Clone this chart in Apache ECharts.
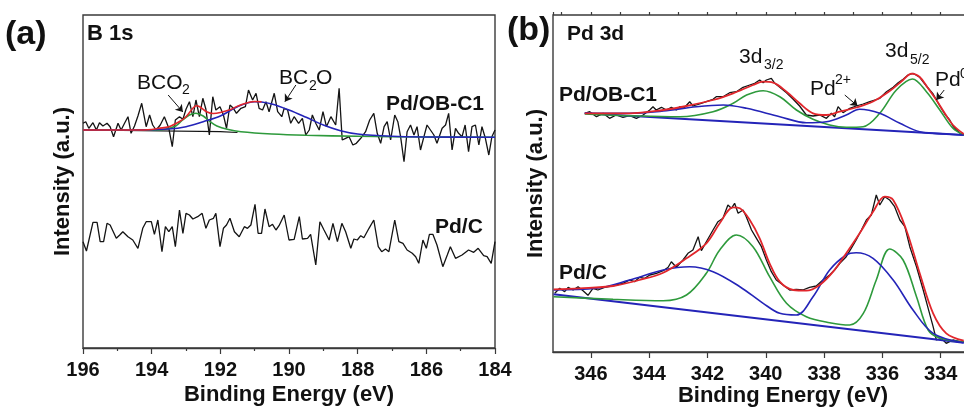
<!DOCTYPE html>
<html><head><meta charset="utf-8">
<script src="https://cdn.jsdelivr.net/npm/echarts@6/dist/echarts.min.js"></script>
<style>html,body{margin:0;padding:0;background:#fff}#c{width:964px;height:408px}</style>
</head><body><div id="c"></div>
<script>
// ---------- Panel (a): B 1s ----------
const aTicks = [196, 194, 192, 190, 188, 186, 184];
// Pd/OB-C1 raw spectrum
const obE_a = [196.00,195.92,195.83,195.71,195.61,195.52,195.42,195.30,195.21,195.11,
  194.98,194.89,194.79,194.69,194.60,194.50,194.40,194.29,194.16,194.06,
  193.97,193.87,193.75,193.63,193.50,193.40,193.31,193.19,193.09,193.00,
  192.90,192.80,192.71,192.61,192.51,192.42,192.32,192.22,192.13,192.01,
  191.91,191.82,191.72,191.62,191.53,191.40,191.27,191.18,191.06,190.96,
  190.87,190.77,190.67,190.58,190.43,190.33,190.21,190.14,190.04,189.95,
  189.85,189.72,189.61,189.51,189.41,189.32,189.22,189.12,189.01,188.91,
  188.78,188.64,188.54,188.45,188.35,188.25,188.14,188.04,187.91,187.77,
  187.65,187.53,187.43,187.33,187.23,187.14,187.04,186.92,186.83,186.75,
  186.65,186.56,186.46,186.36,186.27,186.17,186.07,185.98,185.88,185.78,
  185.69,185.54,185.44,185.35,185.25,185.15,185.06,184.96,184.87,184.77,
  184.67,184.57,184.47,184.38,184.28,184.18,184.09,184.00];
const obI_a = [224.7,226.3,219.7,225.3,218,225.3,222,224.7,221.3,211.3,
  224.7,218,224.7,231.3,214.7,222,232,244.7,221.3,233,
  223,218,223,231.3,219.7,201.3,228,231.3,228.7,238.7,
  246.3,231.3,248,231.3,249.7,238.7,213,251.3,238,241.3,
  233,219.7,243,239.7,234.7,239.7,241.3,258,248,254.7,
  239.7,238,246.3,236.3,254.7,236.3,231.3,239.7,238,224.7,
  231.3,224.7,229.7,213,218,233,224.7,218,236.3,221.3,
  231.3,223,259.7,208,209.7,211.3,203,204.7,209.7,216.3,
  228,234.7,214.7,204.7,221.3,226.3,208,233,226.3,211.3,
  186.3,216.3,223,213,221.3,198,211.3,223,218,213,
  204.7,219.7,223,234.7,198,219.7,214.7,211.3,223,196.3,
  221.3,223,203,221.3,209.7,193,211.3,218];
// Pd/C raw spectrum
const pdcE_a = [196.00,195.90,195.71,195.59,195.50,195.40,195.30,195.21,195.03,194.93,
  194.84,194.69,194.55,194.40,194.26,194.16,194.01,193.92,193.82,193.70,
  193.60,193.50,193.40,193.31,193.19,193.09,193.00,192.90,192.80,192.66,
  192.53,192.42,192.32,192.20,192.13,192.01,191.91,191.82,191.72,191.59,
  191.45,191.30,191.21,191.11,190.99,190.90,190.80,190.70,190.58,190.48,
  190.38,190.29,190.14,190.00,189.85,189.70,189.61,189.46,189.37,189.22,
  189.10,188.98,188.83,188.72,188.59,188.46,188.35,188.20,188.11,188.01,
  187.91,187.82,187.67,187.53,187.40,187.30,187.19,187.09,186.92,186.80,
  186.68,186.56,186.41,186.31,186.22,186.10,186.00,185.91,185.81,185.69,
  185.52,185.39,185.30,185.15,184.96,184.77,184.62,184.49,184.33,184.23,
  184.11,184.00];
const pdcI_a = [106.3,97,125.7,125.7,106.3,106.3,124.7,123,109.7,113,
  116.3,111.3,108,99.7,119.7,126.3,126.3,113.7,128,96.3,
  121.3,116.3,121.3,101.3,138,114.7,134.7,133,129,131.3,
  134.7,119.7,128,129.7,134.7,101.3,119.7,123,129.7,116.3,
  111.3,121.3,119.7,123,143.7,114.7,114.7,139,121.3,123.7,
  118,122.3,133,108,108.7,131.3,109,109.7,113.7,83,
  126.3,118,108,124.7,106.3,124.7,116.3,99.7,109,108,
  112.3,110.3,119.7,128,101.3,96.3,99,96.3,128,106.3,
  104.7,98,94.7,91.3,84.7,108,99.7,113.7,113.7,103,
  81.3,93,101.3,89.7,93,98,95.7,99.7,92.3,91.3,
  84.7,106.3];
// fit curves (a)
const bgE_a = [196, 192, 191.5];
const bgI_a = [218, 216.3, 215.5];
const grnE_a = [196,194,193.6,193.3,193.1,192.9,192.71,192.5,192.3,192.1,191.8,191.4,190.5,189.5,188,186,184];
const grnI_a = [218,217.7,218.7,222,228,233,234.7,232,226.3,222,218.7,216.3,214,212.7,211.7,211,210.7];
const bluE_a = [196,194.5,193.5,193,192.5,192,191.5,191,190.8,190.5,190,189.5,189,188.5,188,187,186,184];
const bluI_a = [218,218,219,221.3,226.3,232,241.3,246.3,246,244,238,230.7,223,217.3,214,211.7,211,210.7];
const redE_a = [196,195,194.5,194,193.8,193.5,193.2,193,192.8,192.7,192.6,192.4,192.2,192,191.7,191.5,191,190.8];
const redI_a = [218,218,218,218.5,219.7,221.3,226.3,231.3,239.7,242.3,241.3,236.3,234.5,235.5,238.5,241.8,246.5,246.2];

// ---------- Panel (b): Pd 3d ----------
const bTicks = [346, 344, 342, 340, 338, 336, 334];
const obE_b = [346.21,346.04,345.81,345.58,345.36,345.13,344.90,344.67,344.44,344.21,
  343.98,343.87,343.76,343.58,343.41,343.24,343.07,342.95,342.78,342.61,
  342.50,342.27,342.04,341.81,341.70,341.47,341.24,341.01,340.78,340.55,
  340.38,340.21,340.09,339.98,339.81,339.69,339.52,339.29,339.06,338.84,
  338.61,338.38,338.15,337.92,337.75,337.64,337.52,337.35,337.12,336.90,
  336.66,336.43,336.26,336.09,335.86,335.63,335.46,335.29,335.12,334.95,
  334.72,334.49,334.26,334.03,333.86,333.69,333.58,333.46,333.35,333.21];
const obI_b = [238.7,240.3,235.3,238.7,233.7,237,234.7,236.3,233.7,237,
  242,245.3,242,244.7,242,244.7,242,245.3,244.7,250.3,
  246,248,250.3,252.7,255.3,255.3,259.3,260.3,264.7,267,
  268.7,272,269.3,272,273.7,268.7,264.7,259.3,252.7,246,
  237,236,237,233.7,238.7,235.3,245.3,239.3,243.7,246,
  248,250.3,252,253.7,260.3,264.7,269.3,272.7,277,278.7,
  274.7,266,258,246,238,232,226,222,219,217];
const redE_bt = [346.21,344.67,343.52,342.72,341.81,341.12,340.44,340.09,339.75,339.29,338.84,338.38,337.92,337.47,336.9,336.32,335.75,335.29,335.0,334.72,334.44,334.15,333.86,333.58,333.21];
const redI_bt = [238.7,238.7,242,246,252,258.7,267,270.3,269.3,260.3,248.7,238.7,237,240.3,244.5,250.5,261,272,278.3,275,264,252,238.7,227,218];
const grnE_bt = [346.21,342.95,341.81,341.12,340.66,340.09,339.52,338.95,338.38,337.81,337.24,336.66,336.09,335.52,334.97,334.49,334.03,333.58,333.21];
const grnI_bt = [238,235.3,240.3,248.7,257,261.3,255.3,242,232.7,227,224.7,225.3,238.7,262,273,260.3,242,223.7,217];
const bluE_bt = [346.21,344.67,343.52,342.38,341.46,340.66,339.52,338.61,337.92,337.24,336.78,336.09,335.40,334.72,333.81,333.21];
const bluI_bt = [238.7,238.7,241,245.3,247,243.7,235.3,229.3,230.3,237,242.7,238.7,228.7,220.3,218,217];
const bgE_bt = [346.21, 333.21];
const bgI_bt = [238.7, 217];

const pdcE_b = [347.24,347.07,346.90,346.78,346.61,346.44,346.27,346.10,345.93,345.76,
  345.53,345.30,345.13,344.90,344.67,344.50,344.33,344.15,343.98,343.75,
  343.52,343.35,343.24,343.07,342.84,342.67,342.50,342.32,342.21,342.04,
  341.81,341.64,341.47,341.30,341.18,341.07,340.95,340.78,340.67,340.49,
  340.32,340.15,339.98,339.81,339.64,339.41,339.18,338.95,338.73,338.50,
  338.27,338.04,337.81,337.64,337.46,337.24,337.07,336.90,336.72,336.55,
  336.38,336.21,336.09,335.92,335.75,335.58,335.40,335.23,335.06,334.83,
  334.60,334.43,334.26,334.15,333.98,333.81,333.58,333.35,333.21];
const pdcI_b = [58.7,63.7,60.3,64.7,62,65.3,61.3,56.7,63.7,62,
  64.7,66,67,68.7,72,70.3,74.7,73.7,77,78.7,
  81.3,84.7,90.3,84.7,92,98.7,102,115.3,101.3,110.3,
  122,130.3,133.7,147,143.7,148.7,138.7,142,135.3,122,
  113.7,105.3,92,80.3,72,67,62,62.7,62,64.7,
  66,72,77,82,88.7,95.3,103.7,112,122,132,
  137,157,147,155.3,152,145.3,132,125.3,105.3,85.3,
  62,43.7,25.3,12,13.7,8.7,12,10.3,10.3];
const redE_bb = [347.28,346.38,345.24,344.33,343.52,342.72,342.04,341.58,341.12,340.89,340.55,340.21,339.87,339.52,339.06,338.61,338.15,337.69,337.24,336.78,336.32,335.92,335.63,335.18,334.72,334.26,333.81,333.21];
const redI_bb = [62.7,63.7,66,72,79.3,93.7,108.7,128.7,144.7,143.7,132,113.7,88.7,70.3,62,61.3,67,80.3,98.7,118.7,140.3,155.3,152,122,78.7,38.7,18.7,11.3];
const grnE_bb = [347.28,345.24,343.52,342.72,342.04,341.58,341.01,340.44,339.87,339.29,338.61,337.81,337.12,336.66,336.21,335.75,335.29,334.83,334.43,334.03,333.21];
const grnI_bb = [55.3,52.7,51.3,57,78.7,102,117,105.3,75.3,48.7,35.3,29.3,27,38.3,72,103,92,55.3,22,14,10.3];
const bluE_bb = [347.28,345.81,344.67,343.52,342.61,341.81,340.89,340.09,339.52,338.95,338.38,337.81,337.24,336.9,336.32,335.63,334.95,334.26,333.21];
const bluI_bb = [62,63.7,72,82,85.3,80.3,65.3,48.7,38.7,37,55.3,82,97,99.3,93.7,72,42,18.7,9.3];
const bgE_bb = [347.28, 333.21];
const bgI_bb = [57.7, 9.3];

// arrows (data coords: [start],[end])
const arrowsA = [[[193.52, 253], [193.09, 236]], [[189.8, 263], [190.12, 246.3]]];
const arrowsB = [[[337.29, 257], [336.85, 246]], [[333.88, 262], [334.15, 252]]];

// ---------- build chart ----------
const FONT = '"Liberation Sans", Arial, Helvetica, sans-serif';
const COL = { black: '#141414', red: '#e1262c', green: '#2e9a3c', blue: '#2424b8', frame: '#3a3a3a' };
const pairs = (xs, ys) => xs.map((x, i) => [x, ys[i]]);

function ser(xi, yi, xs, ys, color, smooth, width, extra) {
  return Object.assign({
    type: 'line', xAxisIndex: xi, yAxisIndex: yi, data: pairs(xs, ys),
    showSymbol: false, symbol: 'none', smooth: smooth, silent: true,
    lineStyle: { color: color, width: width || 1.3 }
  }, extra || {});
}
function arrowMark(list) {
  return {
    silent: true, symbol: ['none', 'arrow'], symbolSize: 7, animation: false,
    label: { show: false },
    lineStyle: { color: COL.black, width: 1, type: 'solid' },
    data: list.map(a => [{ coord: a[0] }, { coord: a[1] }])
  };
}

const axisLbl = { fontSize: 20, fontWeight: 'bold', color: '#111', fontFamily: FONT, margin: 12 };
const nameSt = { fontSize: 22, fontWeight: 'bold', color: '#111', fontFamily: FONT };
const yNameSt = { fontSize: 22, fontWeight: 'bold', color: '#111', fontFamily: FONT };

function txt(x, y, s, size, bold, extra) {
  return Object.assign({
    type: 'text', x: x, y: y, z: 100, silent: true,
    style: { text: s, fill: '#111', fontSize: size, fontWeight: bold ? 'bold' : 'normal', fontFamily: FONT,
      align: 'left', textAlign: 'left', verticalAlign: 'middle', textVerticalAlign: 'middle' }
  }, extra || {});
}

const option = {
  animation: false,
  backgroundColor: '#fff',
  grid: [
    { left: 83, top: 15, width: 412, height: 333, show: true, borderColor: COL.frame, borderWidth: 1.4,
      backgroundColor: 'transparent', containLabel: false, outerBoundsMode: 'none' },
    { left: 553, top: 15, width: 446, height: 337, show: true, borderColor: COL.frame, borderWidth: 1.4,
      backgroundColor: 'transparent', containLabel: false, outerBoundsMode: 'none' }
  ],
  xAxis: [
    { gridIndex: 0, type: 'value', min: 184, max: 196, interval: 2, inverse: true,
      axisLine: { show: true, lineStyle: { color: COL.frame, width: 1.4 } },
      axisTick: { show: true, length: 6, lineStyle: { color: COL.frame, width: 1.2 } },
      minorTick: { show: true, splitNumber: 2, length: 3, lineStyle: { color: COL.frame, width: 1.2 } },
      splitLine: { show: false }, minorSplitLine: { show: false },
      axisLabel: Object.assign({ formatter: v => (aTicks.indexOf(v) >= 0 ? String(v) : '') }, axisLbl),
      name: 'Binding Energy (eV)', nameLocation: 'middle', nameGap: 36, nameMoveOverlap: false, nameTextStyle: nameSt },
    { gridIndex: 1, type: 'value', min: 332, max: 347.3, interval: 2, inverse: true,
      axisLine: { show: true, lineStyle: { color: COL.frame, width: 1.4 } },
      axisTick: { show: true, length: 6, lineStyle: { color: COL.frame, width: 1.2 } },
      splitLine: { show: false },
      axisLabel: Object.assign({ showMaxLabel: false, formatter: v => (bTicks.indexOf(v) >= 0 ? String(v) : '') }, axisLbl),
      name: 'Binding Energy (eV)', nameLocation: 'middle', nameGap: 33, nameMoveOverlap: false,
      nameTextStyle: Object.assign({ padding: [0, 0, 0, 14] }, nameSt) },
    { gridIndex: 1, type: 'value', min: 332, max: 347.3, interval: 1, inverse: true,
      axisLine: { show: false },
      axisTick: { show: true, length: 3, lineStyle: { color: COL.frame, width: 1.2 } },
      axisLabel: { show: false }, splitLine: { show: false } }
  ],
  yAxis: [
    { gridIndex: 0, type: 'value', min: 0, max: 333,
      axisLine: { show: false }, axisTick: { show: false }, axisLabel: { show: false }, splitLine: { show: false },
      name: 'Intensity (a.u.)', nameLocation: 'middle', nameRotate: 90, nameGap: 9, nameTextStyle: yNameSt },
    { gridIndex: 1, type: 'value', min: 0, max: 337,
      axisLine: { show: false }, axisTick: { show: false }, axisLabel: { show: false }, splitLine: { show: false },
      name: 'Intensity (a.u.)', nameLocation: 'middle', nameRotate: 90, nameGap: 6, nameTextStyle: yNameSt }
  ],
  series: [
    // panel a
    ser(0, 0, pdcE_a, pdcI_a, COL.black, false, 1.3),
    ser(0, 0, obE_a, obI_a, COL.black, false, 1.3, { markLine: arrowMark(arrowsA) }),
    ser(0, 0, bgE_a, bgI_a, COL.black, false, 1.2),
    ser(0, 0, grnE_a, grnI_a, COL.green, 0.35, 1.6),
    ser(0, 0, bluE_a, bluI_a, COL.blue, 0.35, 1.6),
    ser(0, 0, redE_a, redI_a, COL.red, 0.35, 1.6),
    // panel b
    ser(1, 1, obE_b, obI_b, COL.black, false, 1.3, { markLine: arrowMark(arrowsB) }),
    ser(1, 1, pdcE_b, pdcI_b, COL.black, false, 1.3),
    ser(1, 1, bgE_bt, bgI_bt, COL.blue, false, 2),
    ser(1, 1, bgE_bb, bgI_bb, COL.blue, false, 2),
    ser(1, 1, grnE_bt, grnI_bt, COL.green, 0.35, 1.6),
    ser(1, 1, grnE_bb, grnI_bb, COL.green, 0.35, 1.6),
    ser(1, 1, bluE_bt, bluI_bt, COL.blue, 0.35, 1.6),
    ser(1, 1, bluE_bb, bluI_bb, COL.blue, 0.35, 1.6),
    ser(1, 1, redE_bt, redI_bt, COL.red, 0.35, 1.8),
    ser(1, 1, redE_bb, redI_bb, COL.red, 0.35, 1.8)
  ],
  graphic: [
    txt(5, 35, '(a)', 34, true),
    txt(87, 34, 'B 1s', 22, true),
    txt(137, 83, 'BCO', 21, false), txt(182, 90, '2', 14, false),
    txt(279, 78, 'BC', 21, false), txt(309, 86, '2', 14, false), txt(316, 78, 'O', 21, false),
    txt(386, 104, 'Pd/OB-C1', 21, true),
    txt(435, 227, 'Pd/C', 21, true),
    txt(507, 31, '(b)', 34, true),
    txt(567, 34, 'Pd 3d', 21, true),
    txt(739, 57, '3d', 21, false), txt(764, 65, '3/2', 14, false),
    txt(885, 51, '3d', 21, false), txt(910, 60, '5/2', 14, false),
    txt(810, 89, 'Pd', 21, false), txt(835, 80, '2+', 14, false),
    txt(935, 80, 'Pd', 21, false), txt(960, 74, '0', 14, false),
    txt(559, 95, 'Pd/OB-C1', 21, true),
    txt(559, 273, 'Pd/C', 21, true)
  ]
};
const chart = echarts.init(document.getElementById('c'), null, { renderer: 'canvas' });
chart.setOption(option);
</script></body></html>
